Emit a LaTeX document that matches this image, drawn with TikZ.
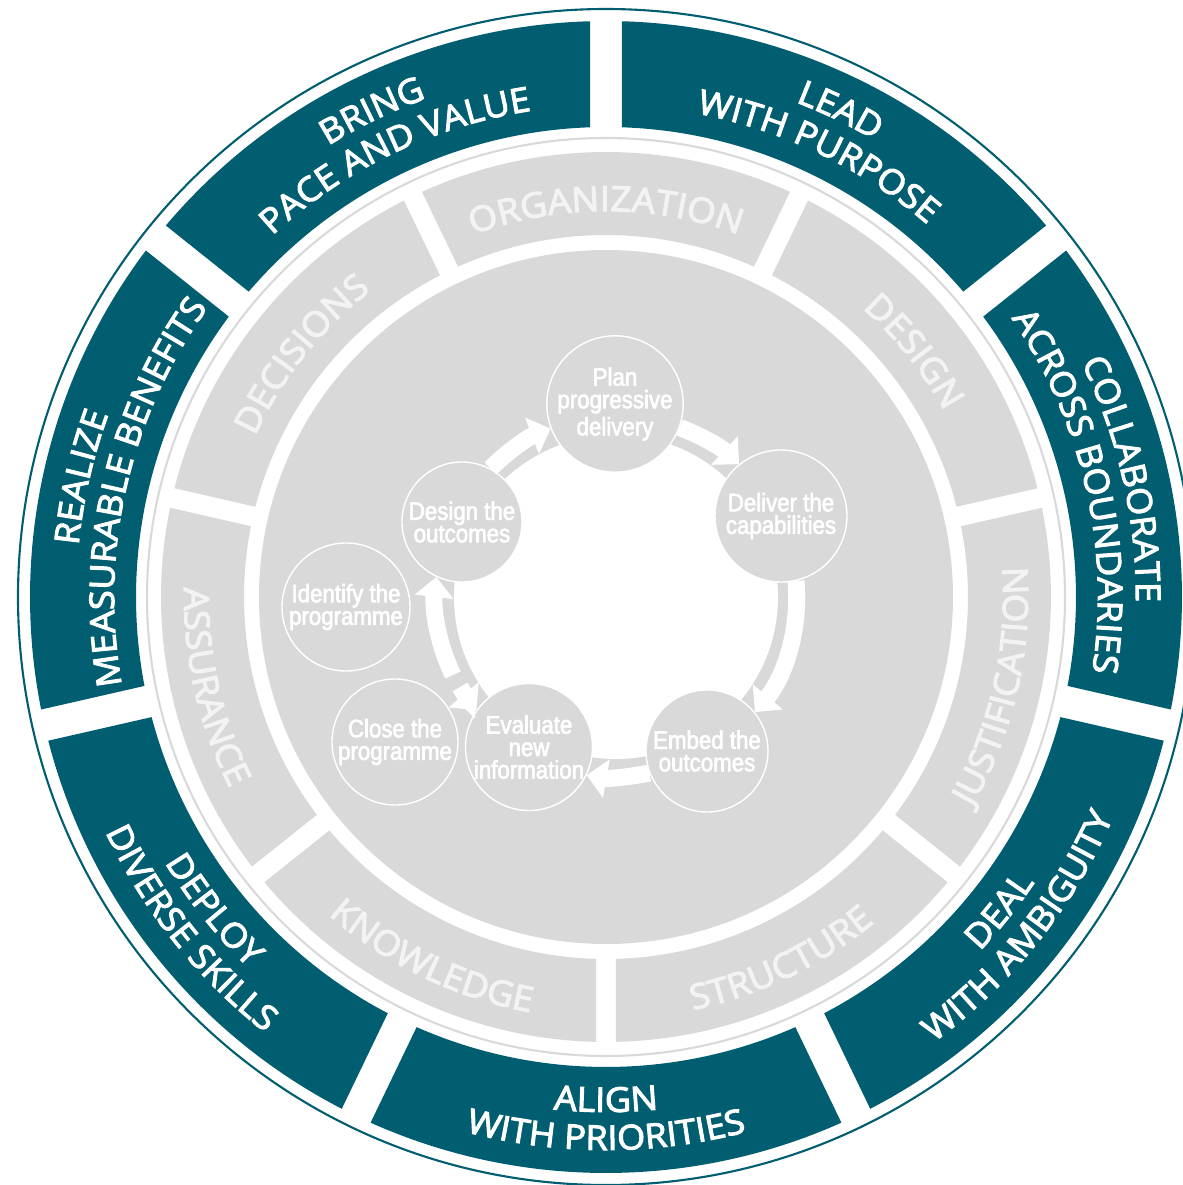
\documentclass[tikz,border=0pt]{standalone}
\usepackage{fontspec}
\setmainfont{Open Sans}
\newfontfamily\ringfam[FakeStretch=1.06,FakeBold=3]{Open Sans}
\newfontfamily\stagefont[FakeStretch=0.88,FakeBold=2.5]{Liberation Sans}
\usetikzlibrary{decorations.text,arrows.meta}

\definecolor{msteal}{RGB}{0,94,112}
\definecolor{msgray}{RGB}{217,217,217}
\definecolor{mslight}{RGB}{243,243,243}

\newcommand\tealfont{\color{white}\ringfam\fontsize{9.7}{12}\selectfont}
\newcommand\grayfont{\color{mslight}\ringfam\fontsize{9.9}{12}\selectfont}

% one piece of a ring: start angle, end angle, inner r, outer r, half gap, colour
\newcommand\ringpiece[6]{%
  \fill[#6] ({#1-asin(#5/#4)}:#4) arc[start angle={#1-asin(#5/#4)}, end angle={#2+asin(#5/#4)}, radius=#4]
    -- ({#2+asin(#5/#3)}:#3) arc[start angle={#2+asin(#5/#3)}, end angle={#1-asin(#5/#3)}, radius=#3] -- cycle;}
% text on an arc: start angle, end angle, radius, text
\newcommand\arctext[4]{%
  \path[decorate,decoration={text along path,text align=center,text={#4}}]
    (#1:#3) arc[start angle=#1, end angle=#2, radius=#3];}

\begin{document}
\begin{tikzpicture}
\tikzstyle{stage} = [circle,fill=msgray,draw=white,line width=0.4pt,inner sep=0pt,text=white,align=center,font=\stagefont\fontsize{7.2}{6.4}\selectfont]
\tikzstyle{band} = [white,line width=0.17cm,-{Triangle[length=0.2cm,width=0.38cm]}]
\useasboundingbox (0,0) rectangle (11.83,11.85);

\begin{scope}[shift={(6.06,5.88)}]
\draw[msteal,line width=0.6pt] (0,0) circle (5.88);
% outer ring
\ringpiece{141.429}{90}{4.70}{5.76}{0.16}{msteal}
\ringpiece{90}{38.571}{4.70}{5.76}{0.16}{msteal}
\ringpiece{38.571}{-12.857}{4.70}{5.76}{0.16}{msteal}
\ringpiece{-12.857}{-64.286}{4.70}{5.76}{0.16}{msteal}
\ringpiece{-64.286}{-115.714}{4.70}{5.76}{0.16}{msteal}
\ringpiece{-115.714}{-167.143}{4.70}{5.76}{0.16}{msteal}
\ringpiece{192.857}{141.429}{4.70}{5.76}{0.16}{msteal}
\draw[msgray,line width=0.6pt] (0,0) circle (4.59);
% middle ring
\ringpiece{115.714}{64.286}{3.62}{4.45}{0.10}{msgray}
\ringpiece{64.286}{12.857}{3.62}{4.45}{0.10}{msgray}
\ringpiece{12.857}{-38.571}{3.62}{4.45}{0.10}{msgray}
\ringpiece{-38.571}{-90}{3.62}{4.45}{0.10}{msgray}
\ringpiece{-90}{-141.429}{3.62}{4.45}{0.10}{msgray}
\ringpiece{-141.429}{-192.857}{3.62}{4.45}{0.10}{msgray}
\ringpiece{167.143}{115.714}{3.62}{4.45}{0.10}{msgray}
\fill[msgray] (0,0) circle (3.47);

\arctext{141.429}{90}{5.30}{|\tealfont|BRING}
\arctext{141.429}{90}{4.92}{|\tealfont|PACE AND VALUE}
\arctext{90}{38.571}{5.30}{|\tealfont|LEAD}
\arctext{90}{38.571}{4.92}{|\tealfont|WITH PURPOSE}
\arctext{38.571}{-12.857}{5.30}{|\tealfont|COLLABORATE}
\arctext{38.571}{-12.857}{4.92}{|\tealfont|ACROSS BOUNDARIES}
\arctext{-64.286}{-12.857}{5.15}{|\tealfont|DEAL}
\arctext{-64.286}{-12.857}{5.53}{|\tealfont|WITH AMBIGUITY}
\arctext{-115.714}{-64.286}{5.15}{|\tealfont|ALIGN}
\arctext{-115.714}{-64.286}{5.53}{|\tealfont|WITH PRIORITIES}
\arctext{-167.143}{-115.714}{5.15}{|\tealfont|DEPLOY}
\arctext{-167.143}{-115.714}{5.53}{|\tealfont|DIVERSE SKILLS}
\arctext{192.857}{141.429}{5.30}{|\tealfont|REALIZE}
\arctext{192.857}{141.429}{4.92}{|\tealfont|MEASURABLE BENEFITS}

\arctext{115.714}{64.286}{3.86}{|\grayfont|ORGANIZATION}
\arctext{64.286}{12.857}{3.86}{|\grayfont|DESIGN}
\arctext{-38.571}{12.857}{4.22}{|\grayfont|JUSTIFICATION}
\arctext{-90}{-38.571}{4.22}{|\grayfont|STRUCTURE}
\arctext{-141.429}{-90}{4.22}{|\grayfont|KNOWLEDGE}
\arctext{-192.857}{-141.429}{4.22}{|\grayfont|ASSURANCE}
\arctext{167.143}{115.714}{3.86}{|\grayfont|DECISIONS}
\end{scope}

\fill[white] (6.16,5.88) circle (1.62);

\node [stage,minimum size=1.36cm] (plan) at (6.15,7.81) {Plan\\progressive\\delivery};
\node [stage,minimum size=1.32cm] (deliver) at (7.81,6.69) {Deliver the\\capabilities};
\node [stage,minimum size=1.22cm] (embed) at (7.07,4.34) {Embed the\\outcomes};
\node [stage,minimum size=1.24cm] (evaluate) at (5.29,4.38) {Evaluate\\new\\information};
\node [stage,minimum size=1.20cm] (design) at (4.62,6.63) {Design the\\outcomes};
\node [stage,minimum size=1.28cm] (identify) at (3.46,5.78) {Identify the\\programme};
\node [stage,minimum size=1.26cm] (close) at (3.95,4.43) {Close the\\programme};

\coordinate (split1) at (4.601,4.98);
\coordinate (split2) at (4.53,5.10);

\draw[band] (design.62.5) to[out=44.6,in=200.9,looseness=0.86] (plan.201.4);
\draw[band] (plan.-20.9) to[out=-20.3,in=136.9,looseness=0.86] (deliver.129.7);
\draw[band] (deliver.-77.6) to[out=-84.7,in=50.1,looseness=0.88] (embed.39.3);
\draw[band] (embed.201.9) to[out=191.1,in=-10.1,looseness=0.86] (evaluate.-26.1);
\draw[band] (split1) to[out=300,in=129.9,looseness=0.86] (evaluate.145.9);
\draw[band] (split2) to[out=116,in=263.4,looseness=0.86] (design.245.5);
\end{tikzpicture}
\end{document}
